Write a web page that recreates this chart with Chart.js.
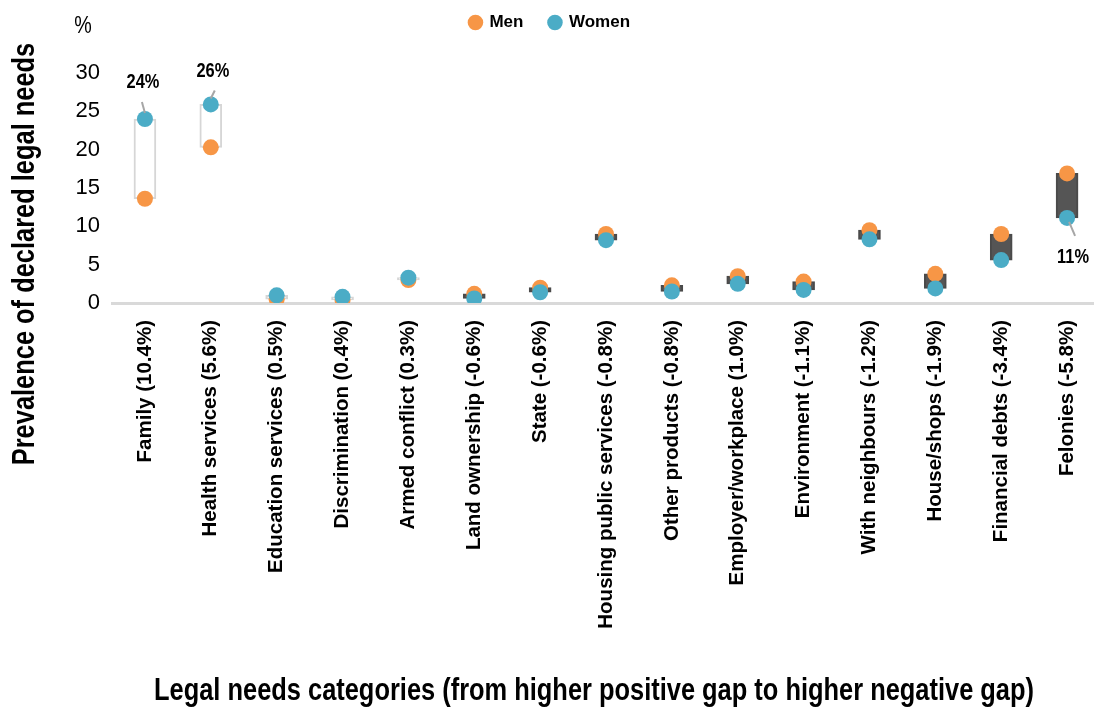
<!DOCTYPE html>
<html>
<head>
<meta charset="utf-8">
<title>Prevalence of declared legal needs by gender</title>
<script src="https://cdn.jsdelivr.net/npm/chart.js@4.4.1/dist/chart.umd.min.js"></script>
<style>
  html, body { margin: 0; padding: 0; background: #ffffff; overflow: hidden; }
  #wrap { position: absolute; left: 0; top: 0; width: 1100px; height: 708px; }
</style>
</head>
<body>
<div id="wrap"><canvas id="chart"></canvas></div>
<script>
// Legal needs categories, ordered from higher positive gap to higher negative gap
const categories = [
  'Family (10.4%)', 'Health services (5.6%)', 'Education services (0.5%)',
  'Discrimination (0.4%)', 'Armed conflict (0.3%)', 'Land ownership (-0.6%)',
  'State (-0.6%)', 'Housing public services (-0.8%)', 'Other products (-0.8%)',
  'Employer/workplace (1.0%)', 'Environment (-1.1%)', 'With neighbours (-1.2%)',
  'House/shops (-1.9%)', 'Financial debts (-3.4%)', 'Felonies (-5.8%)'
];

// Prevalence of declared legal needs (%)
const menValues   = [13.6, 20.3, 0.5, 0.4, 3.0, 1.2, 2.0, 9.0, 2.3, 3.5, 2.8, 9.5, 3.8, 9.0, 16.9];
const womenValues = [24.0, 25.9, 1.0, 0.8, 3.3, 0.6, 1.4, 8.2, 1.5, 2.5, 1.7, 8.3, 1.9, 5.6, 11.1];

const seriesNames = ['Men', 'Women'];
const yTicks = [0, 5, 10, 15, 20, 25, 30];

// Categories whose women value is written next to the point
const labelledPoints = [0, 1, 14];

const FONT = "'Liberation Sans', Arial, sans-serif";
const NARROW = 0.82; // horizontal squeeze for the condensed headings
const MEN_COLOR = '#F79646';
const WOMEN_COLOR = '#4BACC6';

// Floating bar from the men value to the women value; light when women are higher
const gapRanges = menValues.map((m, i) => [m, womenValues[i]]);
const gapFill = menValues.map((m, i) => (womenValues[i] >= m ? '#ffffff' : '#555555'));
const gapBorder = menValues.map((m, i) => (womenValues[i] >= m ? '#d6d6d6' : '#4a4a4a'));

// Offsets (px) of each value label and its leader line, relative to the point
const labelPlacement = {
  0:  { label: [-2, -37], from: [0, -6], to: [-3, -17] },
  1:  { label: [2, -33],  from: [0, -6], to: [4, -14] },
  14: { label: [6, 40],   from: [2, 4],  to: [8, 18] }
};

// Draws text squeezed horizontally, like a narrow typeface
function condensedText(ctx, text, x, y) {
  const w = ctx.measureText(text).width;
  ctx.fillText(text, x, y, w * NARROW);
}

// Empty box that keeps the legend on the top row, clear of the plot
const legendGap = {
  id: 'legendGap',
  beforeInit(chart) {
    Chart.layouts.addBox(chart, {
      position: 'top',
      weight: 0,
      fullSize: true,
      options: {},
      left: 0, top: 0, right: 0, bottom: 0, width: 0, height: 0,
      isHorizontal() { return true; },
      update(maxWidth) { this.width = maxWidth; this.height = 32; },
      draw() {}
    });
  }
};

const annotations = {
  id: 'annotations',
  afterDatasetsDraw(chart) {
    const { ctx } = chart;
    const women = chart.getDatasetMeta(2);
    ctx.save();
    labelledPoints.forEach(i => {
      const pt = women.data[i];
      const p = labelPlacement[i];
      ctx.strokeStyle = '#a6a6a6';
      ctx.lineWidth = 2;
      ctx.beginPath();
      ctx.moveTo(pt.x + p.from[0], pt.y + p.from[1]);
      ctx.lineTo(pt.x + p.to[0], pt.y + p.to[1]);
      ctx.stroke();
      ctx.fillStyle = '#000000';
      ctx.font = 'bold 20px ' + FONT;
      ctx.textAlign = 'center';
      ctx.textBaseline = 'middle';
      condensedText(ctx, Math.round(womenValues[i]) + '%', pt.x + p.label[0], pt.y + p.label[1]);
    });
    ctx.restore();
  },
  afterDraw(chart) {
    const { ctx, chartArea } = chart;
    ctx.save();
    ctx.fillStyle = '#000000';
    ctx.textAlign = 'center';
    ctx.textBaseline = 'middle';
    // unit above the value axis
    ctx.font = '24px ' + FONT;
    condensedText(ctx, '%', chartArea.left - 29, chartArea.top - 47);
    // category axis title
    ctx.font = 'bold 31px ' + FONT;
    condensedText(ctx, 'Legal needs categories (from higher positive gap to higher negative gap)',
      chartArea.left + 482, chartArea.bottom + 388);
    // value axis title
    ctx.translate(chartArea.left - 87, chartArea.bottom - 49);
    ctx.rotate(-Math.PI / 2);
    condensedText(ctx, 'Prevalence of declared legal needs', 0, 0);
    ctx.restore();
  }
};

new Chart(document.getElementById('chart'), {
  data: {
    labels: categories,
    datasets: [
      {
        type: 'bar',
        label: 'Gap',
        data: gapRanges,
        backgroundColor: gapFill,
        borderColor: gapBorder,
        borderWidth: 2,
        borderSkipped: false,
        barThickness: 22,
        order: 2
      },
      {
        type: 'line',
        label: seriesNames[0],
        data: menValues,
        showLine: false,
        pointRadius: 8,
        pointHoverRadius: 8,
        pointBorderWidth: 0,
        pointBackgroundColor: MEN_COLOR,
        backgroundColor: MEN_COLOR,
        borderColor: MEN_COLOR,
        order: 1
      },
      {
        type: 'line',
        label: seriesNames[1],
        data: womenValues,
        showLine: false,
        pointRadius: 8,
        pointHoverRadius: 8,
        pointBorderWidth: 0,
        pointBackgroundColor: WOMEN_COLOR,
        backgroundColor: WOMEN_COLOR,
        borderColor: WOMEN_COLOR,
        order: 0
      }
    ]
  },
  options: {
    responsive: true,
    maintainAspectRatio: false,
    animation: false,
    layout: { autoPadding: false, padding: { left: 0, right: 0, top: -12, bottom: 0 } },
    plugins: {
      tooltip: { enabled: false },
      legend: {
        position: 'top',
        align: 'center',
        labels: {
          usePointStyle: true,
          pointStyle: 'circle',
          boxWidth: 11,
          boxHeight: 11,
          padding: 26,
          color: '#000000',
          font: { family: FONT, size: 17, weight: 'bold' },
          filter: item => seriesNames.includes(item.text),
          sort: (a, b) => a.datasetIndex - b.datasetIndex
        }
      }
    },
    scales: {
      x: {
        type: 'category',
        offset: true,
        grid: { display: false, drawTicks: false },
        border: { display: true, color: '#d9d9d9', width: 3 },
        ticks: {
          autoSkip: false,
          minRotation: 90,
          maxRotation: 90,
          padding: 17,
          color: '#000000',
          font: { family: FONT, size: 20.5, weight: 'bold' }
        },
        afterFit(scale) {
          scale.height = 405;
          scale.paddingLeft = 0;
          scale.paddingRight = 0;
        }
      },
      y: {
        min: 0,
        max: 30,
        grid: { display: false, drawTicks: false },
        border: { display: false },
        afterBuildTicks(scale) {
          scale.ticks = yTicks.map(v => ({ value: v }));
        },
        ticks: {
          padding: 12,
          color: '#000000',
          font: { family: FONT, size: 22 }
        },
        afterFit(scale) {
          scale.width = 112;
        }
      }
    }
  },
  plugins: [legendGap, annotations]
});
</script>
</body>
</html>
